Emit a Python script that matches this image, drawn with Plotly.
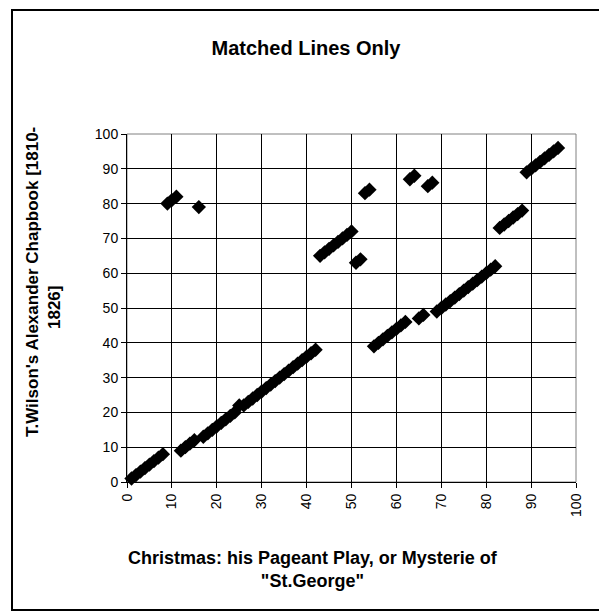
import plotly.graph_objects as go

# Data: matched line numbers (x: Christmas play, y: Wilson chapbook)
seg1_x = [1, 2, 3, 4, 5, 6, 7, 8]
seg1_y = [1, 2, 3, 4, 5, 6, 7, 8]
pts_a_x = [9, 10, 11]
pts_a_y = [80, 81, 82]
seg2_x = [12, 13, 14, 15]
seg2_y = [9, 10, 11, 12]
pts_b_x = [16]
pts_b_y = [79]
seg3_x = [17, 18, 19, 20, 21, 22, 23, 24, 25, 26, 27, 28, 29, 30, 31, 32, 33, 34, 35, 36, 37, 38, 39, 40, 41, 42]
seg3_y = [13, 14, 15, 16, 17, 18, 19, 20, 22, 22, 23, 24, 25, 26, 27, 28, 29, 30, 31, 32, 33, 34, 35, 36, 37, 38]
seg4_x = [43, 44, 45, 46, 47, 48, 49, 50]
seg4_y = [65, 66, 67, 68, 69, 70, 71, 72]
pts_c_x = [51, 52, 53, 54]
pts_c_y = [63, 64, 83, 84]
seg5_x = [55, 56, 57, 58, 59, 60, 61, 62]
seg5_y = [39, 40, 41, 42, 43, 44, 45, 46]
pts_d_x = [63, 64, 65, 66, 67, 68]
pts_d_y = [87, 88, 47, 48, 85, 86]
seg6_x = [69, 70, 71, 72, 73, 74, 75, 76, 77, 78, 79, 80, 81, 82]
seg6_y = [49, 50, 51, 52, 53, 54, 55, 56, 57, 58, 59, 60, 61, 62]
seg7_x = [83, 84, 85, 86, 87, 88]
seg7_y = [73, 74, 75, 76, 77, 78]
seg8_x = [89, 90, 91, 92, 93, 94, 95, 96]
seg8_y = [89, 90, 91, 92, 93, 94, 95, 96]

x_vals = (seg1_x + pts_a_x + seg2_x + pts_b_x + seg3_x + seg4_x + pts_c_x
          + seg5_x + pts_d_x + seg6_x + seg7_x + seg8_x)
y_vals = (seg1_y + pts_a_y + seg2_y + pts_b_y + seg3_y + seg4_y + pts_c_y
          + seg5_y + pts_d_y + seg6_y + seg7_y + seg8_y)

tick_vals = [0, 10, 20, 30, 40, 50, 60, 70, 80, 90, 100]

TITLE = "Matched Lines Only"
X_TITLE = "Christmas: his Pageant Play, or Mysterie of<br>\"St.George\""
Y_TITLE_1 = "T.Wilson's Alexander Chapbook [1810-"
Y_TITLE_2 = "1826]"

W, H = 607, 614
L, R, T, B = 119, 39, 126, 140
pw, ph = W - L - R, H - T - B

def px(xp):
    return (xp - L) / pw

def py(yp):
    return (H - B - yp) / ph

FONT = "Liberation Sans, Arial, sans-serif"

fig = go.Figure()
fig.add_trace(go.Scatter(
    x=x_vals, y=y_vals, mode="markers",
    marker=dict(symbol="diamond", size=11, color="black", line=dict(width=0)),
    showlegend=False, cliponaxis=False,
))

fig.update_layout(
    width=W, height=H,
    margin=dict(l=L, r=R, t=T, b=B),
    paper_bgcolor="white", plot_bgcolor="white",
    font=dict(family=FONT, color="black", size=14),
    title=dict(text="<b>" + TITLE + "</b>", x=298 / W, xref="container",
               xanchor="center", y=1 - 40 / H, yref="container", yanchor="middle",
               font=dict(size=20, family=FONT)),
    shapes=[
        dict(type="rect", xref="paper", yref="paper", x0=0, x1=1, y0=0, y1=1,
             line=dict(color="#808080", width=1), layer="below"),
        dict(type="rect", xref="paper", yref="paper",
             x0=px(4), x1=px(600), y0=py(602), y1=py(2),
             line=dict(color="black", width=2)),
    ],
    annotations=[
        dict(text="<b>" + X_TITLE + "</b>", xref="paper", yref="paper",
             x=px(305), y=py(561), xanchor="center", yanchor="middle",
             showarrow=False, align="center", font=dict(size=18, family=FONT)),
        dict(text="<b>" + Y_TITLE_1 + "</b>", xref="paper", yref="paper",
             x=px(24), y=py(274), xanchor="center", yanchor="middle",
             textangle=-90, showarrow=False, align="center",
             font=dict(size=17, family=FONT)),
        dict(text="<b>" + Y_TITLE_2 + "</b>", xref="paper", yref="paper",
             x=px(46), y=py(300), xanchor="center", yanchor="middle",
             textangle=-90, showarrow=False, align="center",
             font=dict(size=17, family=FONT)),
    ],
)
fig.update_xaxes(
    range=[0, 100], tickvals=tick_vals, ticktext=[str(v) for v in tick_vals],
    tickangle=-90, ticks="outside", ticklen=5, tickcolor="black",
    showline=True, linecolor="black", linewidth=1,
    showgrid=True, gridcolor="black", gridwidth=1, zeroline=False,
    tickfont=dict(size=14, family=FONT),
)
fig.update_yaxes(
    range=[0, 100], tickvals=tick_vals, ticktext=[str(v) for v in tick_vals],
    ticks="outside", ticklen=5, tickcolor="black",
    showline=True, linecolor="black", linewidth=1,
    showgrid=True, gridcolor="black", gridwidth=1, zeroline=False,
    tickfont=dict(size=14, family=FONT),
)

fig.write_html("out.html")
